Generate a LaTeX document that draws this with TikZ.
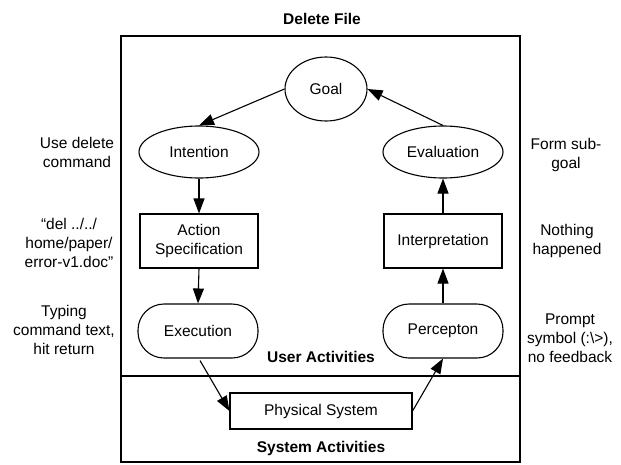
\documentclass[tikz,border=0pt]{standalone}
\usepackage{fontspec}
\setmainfont{Liberation Sans}
\usetikzlibrary{arrows.meta,shapes.geometric}
\begin{document}
\begin{tikzpicture}[x=1pt,y=-1pt,
  every node/.style={font=\fontsize{15.5}{19}\selectfont, align=center, inner sep=0pt},
  ln/.style={line width=1.1pt},
  ell/.style={draw, ln, ellipse},
  boxn/.style={draw, ln, rectangle, minimum width=118pt, minimum height=54pt},
  pill/.style={draw, ln, rectangle, rounded corners=26pt, minimum width=120pt, minimum height=54pt},
  arr/.style={ln, -{Triangle[length=15pt,width=11pt]}},
  ttl/.style={font=\fontsize{15.5}{19}\selectfont\bfseries},
  lbl/.style={font=\fontsize{15.5}{19}\selectfont}
]
\useasboundingbox (0,0) rectangle (621,464);
\fill[white] (0,0) rectangle (621,464);
% frame
\draw[ln] (121,36) rectangle (520,462);
\draw[ln] (121,376) -- (520,376);
\node[ttl] (title) at (322,19) {Delete File};
\node[ttl] (user) at (321,357) {User Activities};
\node[ttl] (sys) at (321,448) {System Activities};
% nodes
\node[ell, minimum width=82pt, minimum height=64pt] (goal) at (326,89) {Goal};
\node[ell, minimum width=120pt, minimum height=52pt] (intention) at (199,152) {Intention};
\node[ell, minimum width=120pt, minimum height=52pt] (evaluation) at (443,152) {Evaluation};
\node[boxn] (action) at (199,241) {Action\\Specification};
\node[boxn] (interp) at (443,241) {Interpretation};
\node[pill] (execution) at (198,331) {Execution};
\node[pill] (percepton) at (443,331) {Percepton};
\node[draw, ln, minimum width=182pt, minimum height=36pt] (phys) at (321,411) {Physical System};
% side labels
\node[lbl] (l1) at (77,152) {Use delete\\command};
\node[lbl] (l2) at (69,243) {“del ../../\\home/paper/\\error-v1.doc”};
\node[lbl] (l3) at (64,330) {Typing\\command text,\\hit return};
\node[lbl] (r1) at (566,155) {Form sub-\\goal};
\node[lbl] (r2) at (567,241) {Nothing\\happened};
\node[lbl] (r3) at (570,338) {Prompt\\symbol (:\textbackslash>),\\no feedback};
% connectors
\draw[arr] (goal.west) -- (intention.north);
\draw[arr] (intention.south) -- (action.north);
\draw[arr] (action.south) -- (execution.north);
\draw[arr] (execution.south) ++(2,2) -- (phys.west);
\draw[arr] (phys.east) -- (percepton.south);
\draw[arr] (percepton.north) -- (interp.south);
\draw[arr] (interp.north) -- (evaluation.south);
\draw[arr] (evaluation.north) -- (goal.east);
\end{tikzpicture}
\end{document}
